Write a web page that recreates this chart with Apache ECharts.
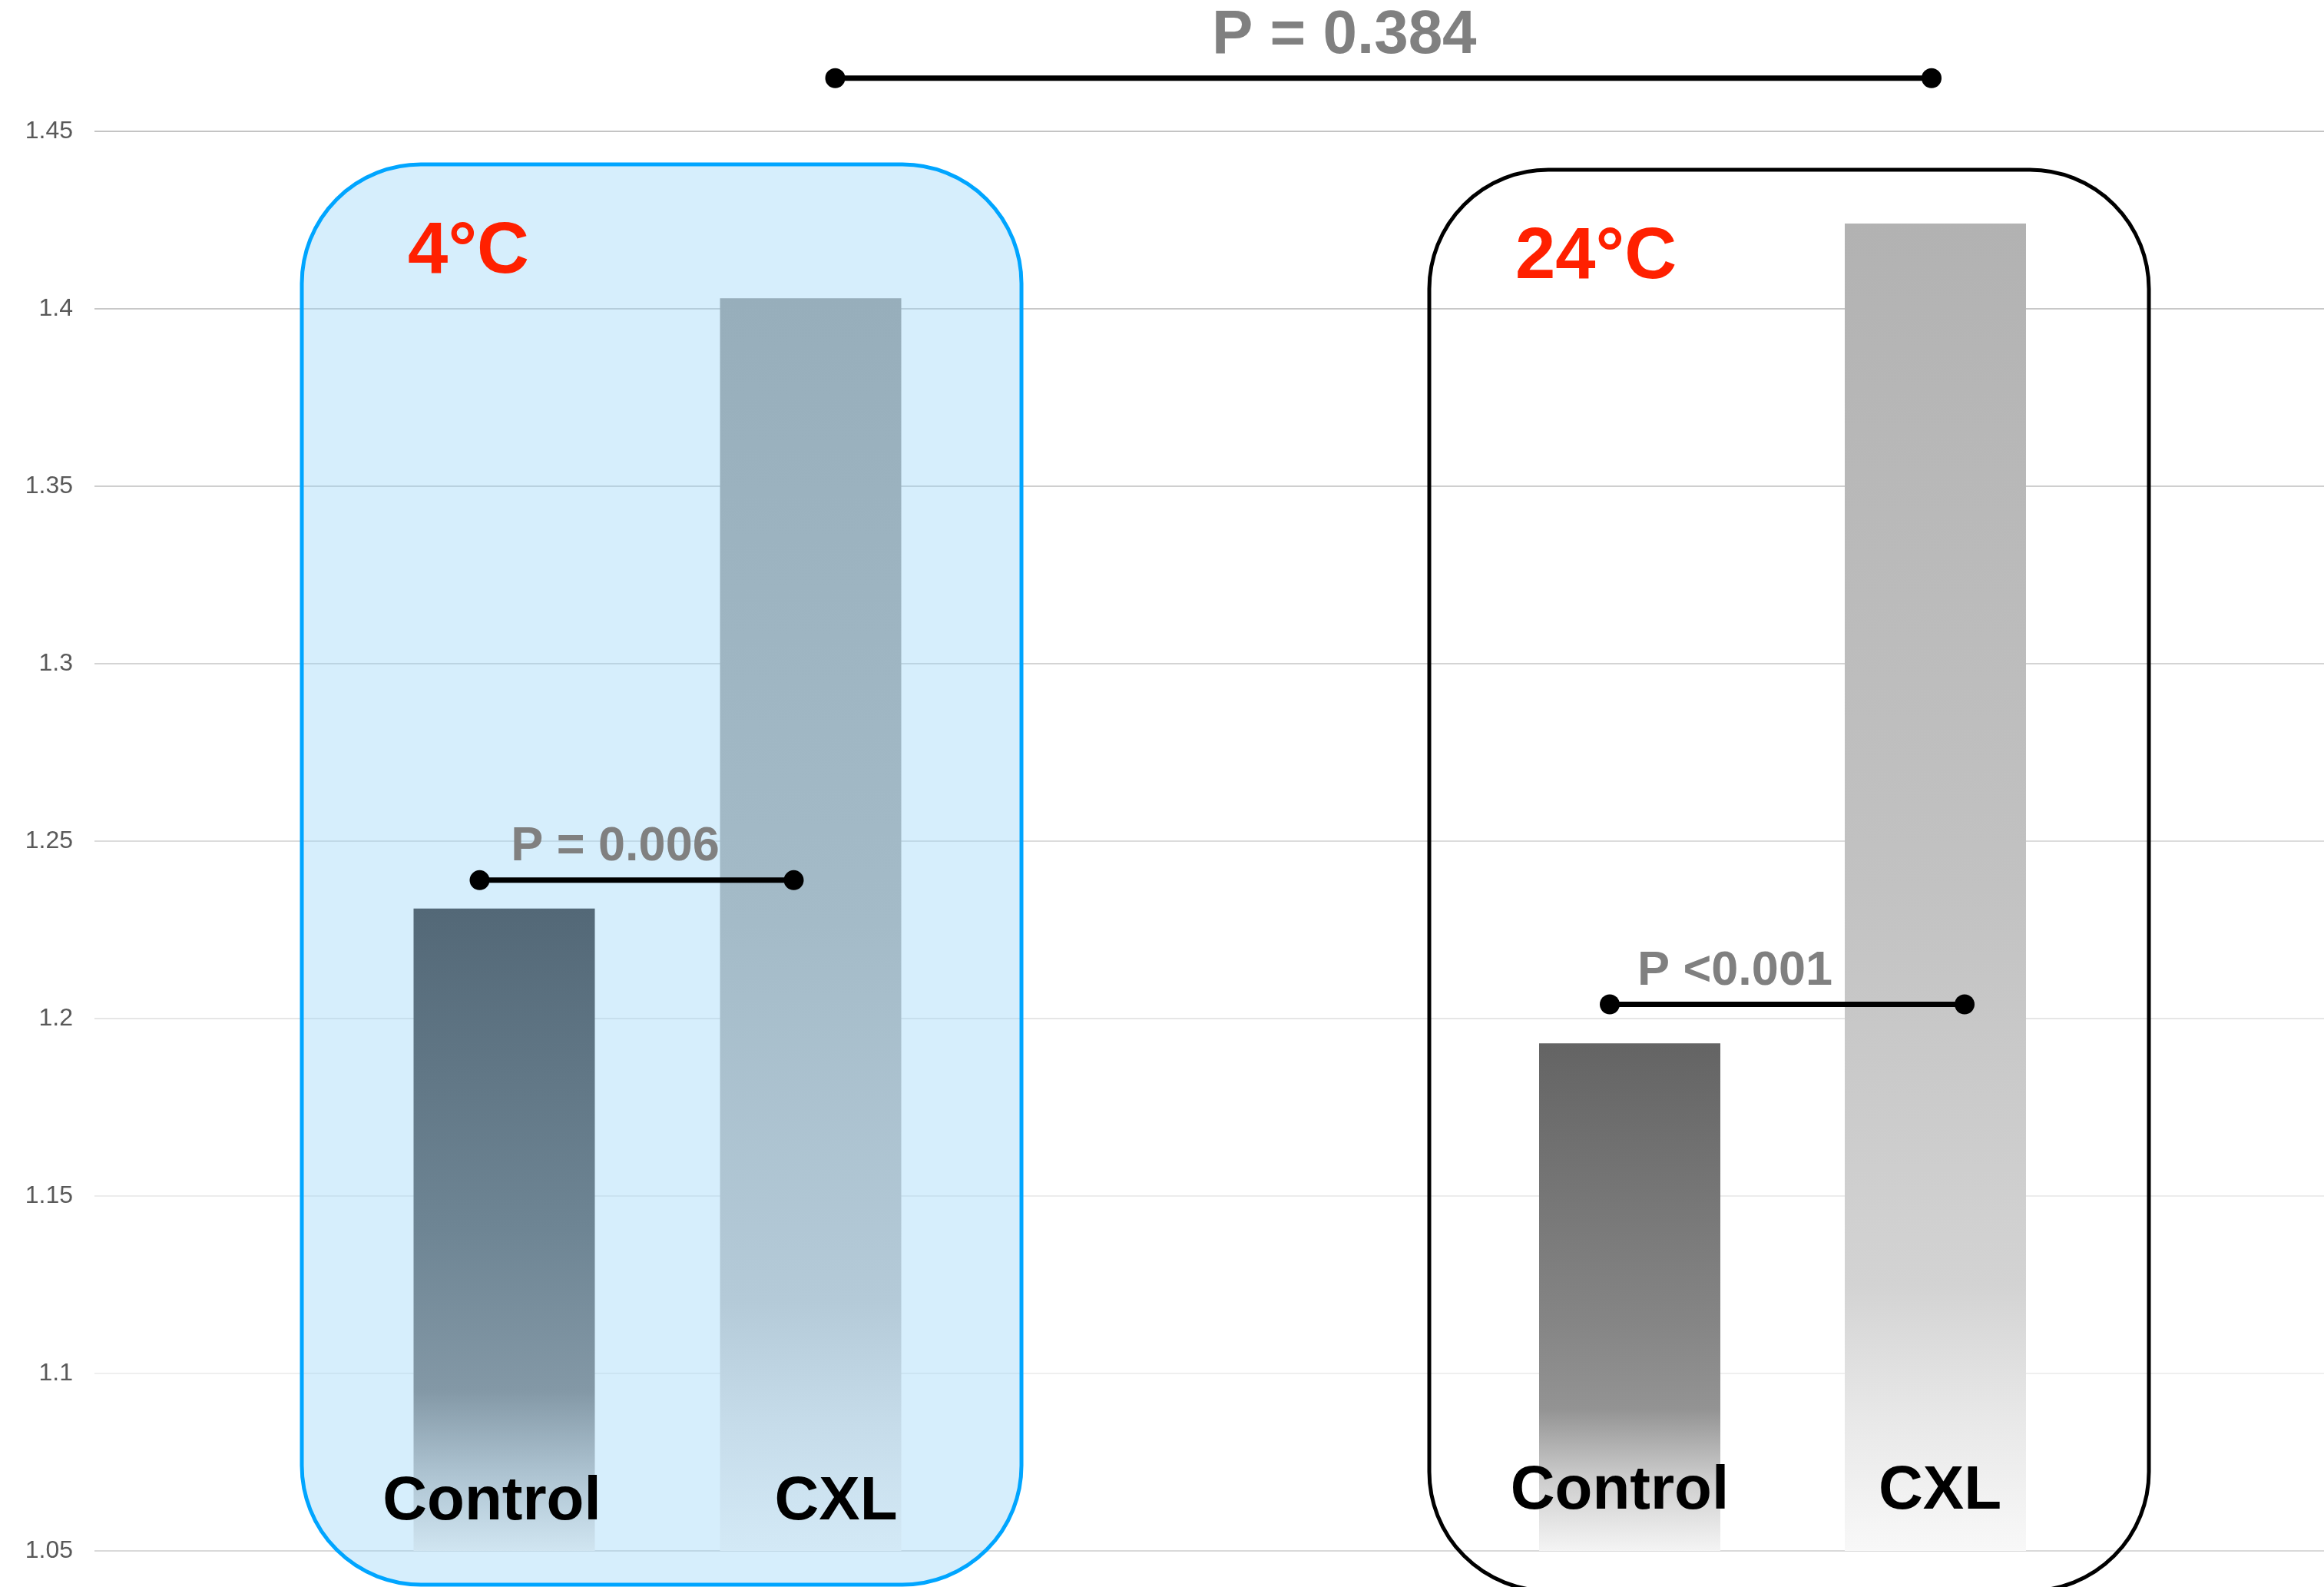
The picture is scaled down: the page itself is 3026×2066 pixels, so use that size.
<!DOCTYPE html>
<html>
<head>
<meta charset="utf-8">
<style>
  html, body { margin: 0; padding: 0; background: #ffffff; }
  #chart { width: 3026px; height: 2066px; }
</style>
<script src="https://cdn.jsdelivr.net/npm/echarts@6/dist/echarts.min.js"></script>
</head>
<body>
<div id="chart"></div>
<script>
// ---- data ----
const groups = ['4°C', '24°C'];
const treatments = ['Control', 'CXL'];
const values4C = [1.231, 1.403];
const values24C = [1.193, 1.424];
const yMin = 1.05;
const yMax = 1.45;
const yStep = 0.05;
// significance brackets: bars compared (0 Control 4°C, 1 CXL 4°C, 2 Control 24°C, 3 CXL 24°C)
const bracketPairs = [[0, 1], [2, 3], [1, 3]];
const bracketHeights = [1.239, 1.204, 1.465];
const bracketLabels = ['P = 0.006', 'P <0.001', 'P = 0.384'];

// ---- layout & style ----
const FONT = '"Liberation Sans", Arial, Helvetica, sans-serif';
const GRID_TOP = 171;
const GRID_BOTTOM = 47;
const groupGrids = [{ left: 457, width: 798 }, { left: 1923, width: 796 }];
// frame edges relative to each group's plot rectangle (top is an inset, bottom an overhang)
const frameStyles = [
  { fill: 'rgba(152,212,247,0.4)', stroke: '#00A5FF', lineWidth: 5, padL: 64, padR: 75, insetTop: 43, padBottom: 44 },
  { fill: 'rgba(255,255,255,0)', stroke: '#000000', lineWidth: 5, padL: 62, padR: 79, insetTop: 50, padBottom: 52 }
];
const frameRadius = 155;
const titleStyle = { color: '#FF2000', fontSize: 94, dx: 217, dy: 115 };
const barGradients = [
  [[0, '#536877'], [0.5, '#6e8594'], [0.75, '#8398a6'], [0.88, '#adc3d1'], [1, '#d0e5f1']],
  [[0, '#97aebb'], [0.5, '#a4bbc8'], [0.8, '#b4cad8'], [0.9, '#c6dcea'], [1, '#d3e9f6']],
  [[0, '#646464'], [0.55, '#858585'], [0.72, '#939393'], [0.86, '#cdcdcd'], [1, '#f4f4f4']],
  [[0, '#b2b2b2'], [0.5, '#c2c2c2'], [0.8, '#d3d3d3'], [0.9, '#e8e8e8'], [1, '#f8f8f8']]
];
const labelShift = [[-16, 33], [-13, 6]];
const labelDistance = [23, 37];
const bracketDotShift = [[-32, -22], [-26, 38], [32, -5]];
const bracketFontSize = [63, 63, 80];
const bracketTextShift = [-28, -68, -51];
const gridLineColors = ['#d9d9d9', '#efefef', '#ececec', '#e6e6e6', '#dcdcdc', '#d4d4d4', '#cfcfcf', '#c8c8c8', '#c4c4c4'];

const chart = echarts.init(document.getElementById('chart'), null, { renderer: 'canvas' });

function gradientFor(stops) {
  return new echarts.graphic.LinearGradient(0, 0, 0, 1,
    stops.map(s => ({ offset: s[0], color: s[1] })));
}

function barPixelX(barIndex) {
  const g = Math.floor(barIndex / 2);
  const c = barIndex % 2;
  return chart.convertToPixel({ xAxisIndex: g + 1, yAxisIndex: g + 1 }, [c, yMin])[0];
}

const groupValues = [values4C, values24C];

const grids = [{ left: 123, right: 0, top: GRID_TOP, bottom: GRID_BOTTOM }];
const xAxes = [{ type: 'value', gridIndex: 0, min: 0, max: 1, show: false }];
const yAxes = [{
  type: 'value', gridIndex: 0, min: yMin, max: yMax, interval: yStep,
  axisLine: { show: false }, axisTick: { show: false },
  axisLabel: { color: '#595959', fontSize: 32, fontFamily: FONT, margin: 28, formatter: v => String(+v.toFixed(2)) },
  splitLine: { lineStyle: { color: gridLineColors, width: 2 } }
}];
const series = [];

groups.forEach((name, g) => {
  grids.push({ left: groupGrids[g].left, width: groupGrids[g].width, top: GRID_TOP, bottom: GRID_BOTTOM });
  xAxes.push({ type: 'category', gridIndex: g + 1, data: treatments, show: false });
  yAxes.push({ type: 'value', gridIndex: g + 1, min: yMin, max: yMax, show: false });

  // rounded frame around each temperature group, with its title
  const fs = frameStyles[g];
  series.push({
    type: 'custom', name: name + ' frame', xAxisIndex: g + 1, yAxisIndex: g + 1,
    z: 1, clip: false, silent: true, data: [[0]],
    renderItem: (params, api) => {
      const cs = params.coordSys;
      const x = cs.x - fs.padL;
      const y = cs.y + fs.insetTop;
      const w = cs.width + fs.padL + fs.padR;
      const h = cs.y + cs.height + fs.padBottom - y;
      return {
        type: 'group',
        children: [
          { type: 'rect', shape: { x, y, width: w, height: h, r: frameRadius },
            style: { fill: fs.fill, stroke: fs.stroke, lineWidth: fs.lineWidth } },
          { type: 'text', style: { x: x + titleStyle.dx, y: y + titleStyle.dy, text: name,
              fill: titleStyle.color, font: 'bold ' + titleStyle.fontSize + 'px ' + FONT,
              align: 'center', verticalAlign: 'middle' } }
        ]
      };
    }
  });

  // bars
  series.push({
    type: 'bar', name: name, xAxisIndex: g + 1, yAxisIndex: g + 1, z: 2,
    barWidth: 236,
    data: groupValues[g].map((v, c) => ({
      value: v,
      itemStyle: { color: gradientFor(barGradients[g * 2 + c]) },
      label: { offset: [labelShift[g][c], 0] }
    })),
    label: {
      show: true, position: 'insideBottom', distance: labelDistance[g],
      formatter: p => p.name, color: '#000000', fontSize: 80, fontWeight: 'bold', fontFamily: FONT
    }
  });
});

// significance brackets
series.push({
  type: 'custom', name: 'brackets', xAxisIndex: 0, yAxisIndex: 0, z: 3, clip: false, silent: true,
  data: bracketPairs.map((p, i) => [p[0], p[1], bracketHeights[i]]),
  renderItem: (params, api) => {
    const i = params.dataIndex;
    const y = api.coord([0, api.value(2)])[1];
    const x1 = barPixelX(api.value(0)) + bracketDotShift[i][0];
    const x2 = barPixelX(api.value(1)) + bracketDotShift[i][1];
    const fsz = bracketFontSize[i];
    return {
      type: 'group',
      children: [
        { type: 'line', shape: { x1, y1: y, x2, y2: y }, style: { stroke: '#000000', lineWidth: 7 } },
        { type: 'circle', shape: { cx: x1, cy: y, r: 13 }, style: { fill: '#000000' } },
        { type: 'circle', shape: { cx: x2, cy: y, r: 13 }, style: { fill: '#000000' } },
        { type: 'text', style: { x: (x1 + x2) / 2 + bracketTextShift[i], y: y - 0.68 * fsz,
            text: bracketLabels[i], fill: '#808080', font: 'bold ' + fsz + 'px ' + FONT,
            align: 'center', verticalAlign: 'middle' } }
      ]
    };
  }
});

chart.setOption({
  animation: false,
  backgroundColor: '#ffffff',
  grid: grids,
  xAxis: xAxes,
  yAxis: yAxes,
  series: series
});
</script>
</body>
</html>
